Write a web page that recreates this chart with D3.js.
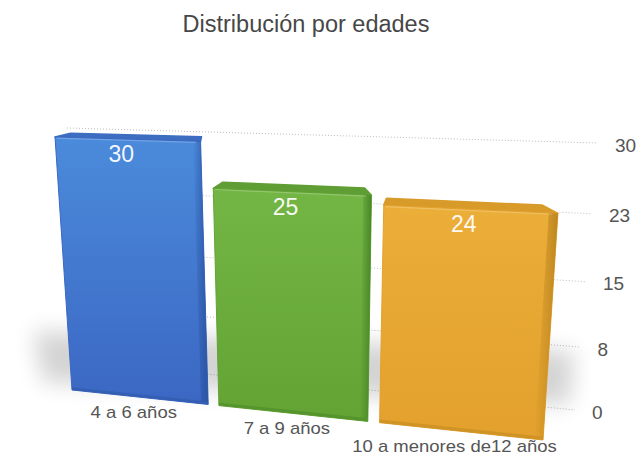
<!DOCTYPE html>
<html>
<head>
<meta charset="utf-8">
<script src="https://cdn.jsdelivr.net/npm/d3@7"></script>
<style>
  html, body { margin: 0; padding: 0; background: #ffffff; }
  svg { display: block; font-family: "Liberation Sans", Arial, Helvetica, sans-serif; }
</style>
</head>
<body>
<svg id="chart" width="639" height="458"></svg>
<script>
// ---- data ----
const chartTitle = "Distribución por edades";
const categories = ["4 a 6 años", "7 a 9 años", "10 a menores de12 años"];
const values = [30, 25, 24];
const tickValues = [0, 7.5, 15, 22.5, 30];

// ---- styles ----
const barFill = [
  { top: "#4b8bdb", bottom: "#3b67c3", cap: "#3d6dc0", edge: "#2b55a3" },
  { top: "#74b645", bottom: "#62a333", cap: "#5f9e34", edge: "#488626" },
  { top: "#ebae39", bottom: "#e3a02c", cap: "#d89b2a", edge: "#bd8620" }
];

// ---- perspective frame (corner anchors of the value planes) ----
// front plane: where bar faces sit; wall plane: where gridlines sit
const frontFrame = { bl: [72, 390], br: [543, 440], tr: [562, 152], tl: [55, 137] };
const wallFrame  = { bl: [82, 362], br: [575, 410], tr: [598, 143], tl: [67, 128] };
const depthVanish = [330, 40];
const barDepth = 0.04;

// projective map of the unit square onto a quadrilateral
function planeProjection(q) {
  const [x0, y0] = q.bl, [x1, y1] = q.br, [x2, y2] = q.tr, [x3, y3] = q.tl;
  const dx1 = x1 - x2, dx2 = x3 - x2, dx3 = x0 - x1 + x2 - x3;
  const dy1 = y1 - y2, dy2 = y3 - y2, dy3 = y0 - y1 + y2 - y3;
  const den = dx1 * dy2 - dx2 * dy1;
  const g = (dx3 * dy2 - dx2 * dy3) / den;
  const h = (dx1 * dy3 - dx3 * dy1) / den;
  const a = x1 - x0 + g * x1, b = x3 - x0 + h * x3, c = x0;
  const d = y1 - y0 + g * y1, e = y3 - y0 + h * y3, f = y0;
  // w pushes the point back toward the depth vanishing point
  return (u, v, w = 0) => {
    const X = a * u + b * v + c, Y = d * u + e * v + f, Z = g * u + h * v + 1;
    return [(X + w * depthVanish[0]) / (Z + w), (Y + w * depthVanish[1]) / (Z + w)];
  };
}
const front = planeProjection(frontFrame);
const wall = planeProjection(wallFrame);

// ---- scales ----
const xBand = d3.scaleBand().domain(categories).range([0, 1]).paddingInner(0.07).paddingOuter(0);
const vScale = d3.scaleLinear().domain([0, d3.max(tickValues)]).range([0, 1]);
const tickFormat = d3.format(".0f");

const svg = d3.select("#chart");
const defs = svg.append("defs");

defs.append("filter").attr("id", "soft").attr("x", "-30%").attr("y", "-60%").attr("width", "160%").attr("height", "220%")
  .append("feGaussianBlur").attr("stdDeviation", 11);

barFill.forEach((c, i) => {
  const lg = defs.append("linearGradient").attr("id", "face" + i)
    .attr("x1", 0).attr("y1", 0).attr("x2", 0).attr("y2", 1);
  lg.append("stop").attr("offset", 0).attr("stop-color", c.top);
  lg.append("stop").attr("offset", 1).attr("stop-color", c.bottom);
  const sg = defs.append("linearGradient").attr("id", "side" + i)
    .attr("x1", 0).attr("y1", 0).attr("x2", 1).attr("y2", 0);
  sg.append("stop").attr("offset", 0).attr("stop-color", c.edge).attr("stop-opacity", 0);
  sg.append("stop").attr("offset", 1).attr("stop-color", c.edge).attr("stop-opacity", 1);
});

const line = d3.line();
const poly = pts => line(pts) + "Z";

// ---- title ----
svg.append("text")
  .attr("x", 306).attr("y", 32)
  .attr("text-anchor", "middle")
  .attr("font-size", 23.5)
  .attr("fill", "#474747")
  .text(chartTitle);

// ---- gridlines and value axis on the back wall ----
const grid = svg.append("g");
tickValues.forEach(t => {
  const v = vScale(t);
  const p0 = wall(0, v), p1 = wall(1, v);
  grid.append("path")
    .attr("d", line([p0, p1]))
    .attr("stroke", "#bdbdbd")
    .attr("stroke-width", 1)
    .attr("stroke-dasharray", "1,2")
    .attr("fill", "none");
  grid.append("text")
    .attr("x", p1[0] + 17).attr("y", p1[1] + 2)
    .attr("dominant-baseline", "central")
    .attr("font-size", 19)
    .attr("fill", "#555")
    .text(tickFormat(t));
});

// ---- soft floor shadow behind the bars ----
const sv = vScale(7);
svg.append("path")
  .attr("d", poly([front(-0.085, sv), front(-0.07, 0.02), wall(0.99, 0.02), wall(0.99, sv)]))
  .attr("fill", "#000")
  .attr("opacity", 0.17)
  .attr("filter", "url(#soft)");

// ---- bars ----
const bars = svg.append("g").selectAll("g")
  .data(categories.map((c, i) => ({ cat: c, val: values[i], i })))
  .join("g");

bars.each(function (d) {
  const g = d3.select(this);
  const u0 = xBand(d.cat), u1 = u0 + xBand.bandwidth();
  const vt = vScale(d.val);
  const col = barFill[d.i];
  const edgeU = 0.016;

  // top face
  g.append("path")
    .attr("d", poly([front(u0, vt), front(u1, vt), front(u1 - 0.01, vt, barDepth), front(u0 + 0.01, vt, barDepth)]))
    .attr("fill", col.cap)
    .attr("stroke", col.cap).attr("stroke-width", 1.5).attr("stroke-linejoin", "round");

  // front face
  g.append("path")
    .attr("d", poly([front(u0, 0), front(u1, 0), front(u1, vt), front(u0, vt)]))
    .attr("fill", `url(#face${d.i})`)
    .attr("stroke", col.bottom).attr("stroke-width", 1).attr("stroke-linejoin", "round");

  // rounded right edge
  g.append("path")
    .attr("d", poly([front(u1 - edgeU, 0.01), front(u1, 0.01), front(u1, vt), front(u1 - edgeU, vt)]))
    .attr("fill", `url(#side${d.i})`);

  // rounded bottom edge
  g.append("path")
    .attr("d", poly([front(u0, 0), front(u1, 0), front(u1, 0.012), front(u0, 0.012)]))
    .attr("fill", col.edge).attr("opacity", 0.5);

  // highlight along the top front edge
  g.append("path")
    .attr("d", line([front(u0 + 0.004, vt - 0.004), front(u1 - 0.01, vt - 0.004)]))
    .attr("stroke", "#fff").attr("stroke-opacity", 0.22).attr("stroke-width", 1.2).attr("fill", "none");

  // value label
  const lp = front((u0 + u1) / 2, vt);
  g.append("text")
    .attr("x", lp[0] - 5).attr("y", lp[1] + 23)
    .attr("text-anchor", "middle")
    .attr("font-size", 23)
    .attr("fill", "#fff")
    .attr("fill-opacity", 0.95)
    .text(d.val);

  // category label
  const cp = front((u0 + u1) / 2, 0);
  g.append("text")
    .attr("transform", `translate(${cp[0] - 5},${cp[1] + 21}) scale(1,0.85)`)
    .attr("text-anchor", "middle")
    .attr("font-size", 18.5)
    .attr("fill", "#555")
    .text(d.cat);
});
</script>
</body>
</html>
